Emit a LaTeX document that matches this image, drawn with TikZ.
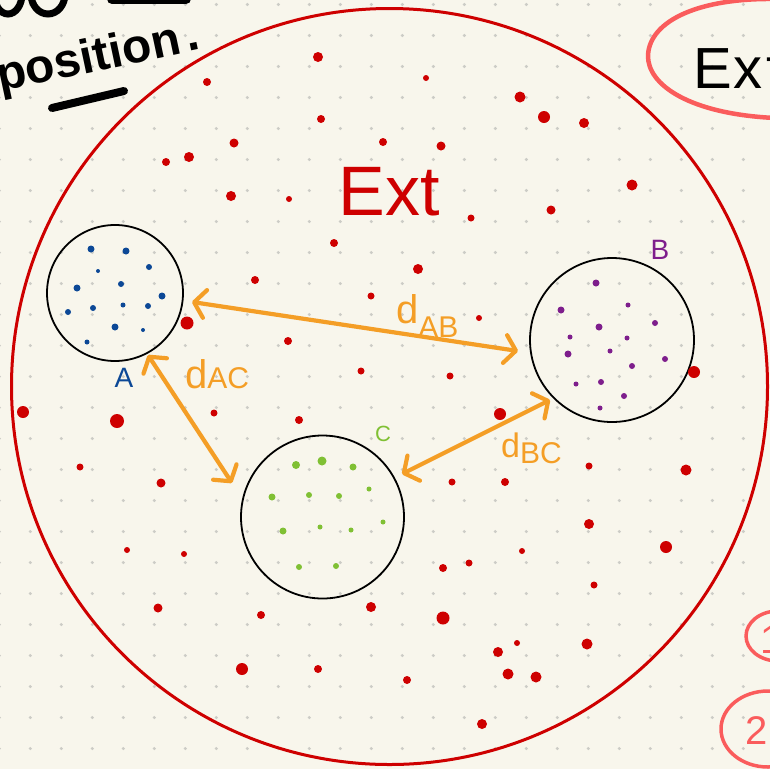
\documentclass[tikz,border=0pt]{standalone}
\usepackage{fontspec}
\setmainfont{Liberation Sans}
\usetikzlibrary{arrows.meta}
\definecolor{paper}{RGB}{248,246,236}
\definecolor{griddot}{RGB}{204,204,198}
\definecolor{extred}{RGB}{206,0,0}
\definecolor{pinkred}{RGB}{250,92,92}
\definecolor{distorange}{RGB}{244,158,38}
\definecolor{setblue}{RGB}{12,72,150}
\definecolor{setpurple}{RGB}{126,30,140}
\definecolor{setgreen}{RGB}{128,192,52}
\begin{document}
\begin{tikzpicture}[x=1pt,y=-1pt,
  setcirc/.style={circle,draw=black,line width=1.8pt,inner sep=0pt},
  distarrow/.style={draw=distorange,line width=4.2pt,line cap=round,
    {Straight Barb[length=11pt,width=28pt,round]}-{Straight Barb[length=11pt,width=28pt,round]}},
  distlab/.style={text=distorange,font=\fontsize{40}{40}\selectfont,inner sep=0pt,anchor=base west},
  setlab/.style={font=\fontsize{28}{28}\selectfont,inner sep=0pt}]
\useasboundingbox (0,0) rectangle (770,769);
\fill[paper] (0,0) rectangle (770,769);
\clip (0,0) rectangle (770,769);
\foreach \i in {0,...,25}
  \foreach \j in {0,...,24}
    \fill[griddot] (31*\i-0.7,31*\j+4.5) circle (1.7);

\node[circle,draw=extred,line width=3pt,inner sep=0pt,minimum size=756pt] (U) at (389.5,386.5) {};
\node[setcirc,minimum size=136pt] (A) at (115,293) {};
\node[setcirc,minimum size=164pt] (B) at (612,340) {};
\node[setcirc,minimum size=163pt] (C) at (322.5,517) {};

\foreach \x/\y/\r in {318/57/5,207/82/4,321/119/4,234/143/4.5,383/142/4,166/162/4,189/157/5,231/196/5,
    289/199/3,334/243/4,255/280/4,371/296/3.5,187/323/6.5,288/341/4,361/371/3.5,
    426/78/3,520/97/5.5,544/117/6,584/123/5,441/146/4.5,632/185/5.5,551/210/4.5,471/218/3.5,
    418/269/5,479/318/3,450/376/3.5,694/372/6,
    23/412/6,117/421/7,214/413/3.5,299/420/4,80/467/3.5,161/483/4.5,127/550/3,184/554/3,
    158/608/4.5,261/615/4,371/607/5,242/669/6,318/669/4,
    500/414/6,452/482/3.5,505/482/4,589/466/3.5,686/470/5.5,589/524/5,522/551/3,666/547/6,
    443/568/4,469/563/3.5,594/585/3.5,443/618/6.5,517/643/3,498/652/5,587/644/5.5,
    407/680/4,508/674/5.5,536/677/5.5,482/724/5}
  \fill[extred] (\x,\y) circle (\r);

\foreach \x/\y/\r in {91/249/3.5,126/251/3.5,149/267/3,98/271/2,77/288/3.5,121/284/3,162/296/3.5,
    68/312/3,93/308/3,123/305/2.5,148/306/3,115/327/3.5,143/330/2,87/342/2.5}
  \fill[setblue] (\x,\y) circle (\r);
\foreach \x/\y/\r in {596/283/3.5,561/310/3.5,628/305/2.5,599/327/3.5,655/323/3,570/337/2.5,
    627/338/2.5,610/351/2.5,568/354/3.5,665/359/3,632/366/3,576/384/2.5,601/382/3,
    624/396/3,600/408/2.5}
  \fill[setpurple] (\x,\y) circle (\r);
\foreach \x/\y/\r in {296/465/4,322/461/4.5,353/467/3.5,369/489/2.5,272/497/3.5,309/495/3,
    339/496/3,383/522/2.5,283/531/3.5,320/527/2.5,351/530/2.5,299/567/3,336/566/3}
  \fill[setgreen] (\x,\y) circle (\r);

\node[setlab,text=setblue] (labA) at (124,378) {A};
\node[setlab,text=setpurple] (labB) at (660,250) {B};
\node[setlab,text=setgreen,font=\fontsize{22}{22}\selectfont] (labC) at (383,434) {C};
\node[text=extred,inner sep=0pt,font=\fontsize{70}{70}\selectfont] (ext) at (389,192) {Ext};

\coordinate (ab1) at (192,302);
\coordinate (ab2) at (518,351);
\coordinate (ac1) at (148,355);
\coordinate (ac2) at (232,483);
\coordinate (bc1) at (402,474);
\coordinate (bc2) at (550,400);
\draw[distarrow] (ab1) -- (ab2);
\draw[distarrow] (ac1) -- (ac2);
\draw[distarrow] (bc1) -- (bc2);
\node[distlab] (dab) at (396,323) {d\raisebox{-14pt}{\fontsize{30}{30}\selectfont AB}};
\node[distlab] (dac) at (185,388) {d{\fontsize{30}{30}\selectfont AC}};
\node[distlab,font=\fontsize{34}{34}\selectfont] (dbc) at (501,457) {d\raisebox{-6pt}{\fontsize{30}{30}\selectfont BC}};

\node[inner sep=0pt,anchor=base west,rotate=12,font=\fontsize{48}{48}\selectfont\bfseries] (pos) at (0,92) {position\kern6pt.};
\draw[line width=8pt,line cap=round] (52,108) -- (124,91);
\draw[line width=7pt] (8,-6) ellipse (14 and 20);
\draw[line width=7pt] (48,-6) ellipse (17 and 20);
\draw[line width=10pt,line cap=round] (112,-1) -- (186,-1);

\draw[pinkred,line width=4.5pt] (775,-1) .. controls (700,-2) and (650,20) .. (648,55)
  .. controls (647,85) and (690,114) .. (775,118);
\node[inner sep=0pt,anchor=base west,font=\fontsize{58}{58}\selectfont] (ext2) at (693,88) {E\kern2pt x\kern4pt t};
\draw[pinkred,line width=3.5pt] (778,636) ellipse (32 and 25);
\node[text=pinkred,inner sep=0pt,anchor=west,font=\fontsize{40}{40}\selectfont] (one) at (760,640) {1};
\draw[pinkred,line width=3.5pt] (768,729) ellipse (47 and 38);
\node[text=pinkred,inner sep=0pt,anchor=west,font=\fontsize{40}{40}\selectfont] (two) at (745,731) {2};
\end{tikzpicture}
\end{document}
